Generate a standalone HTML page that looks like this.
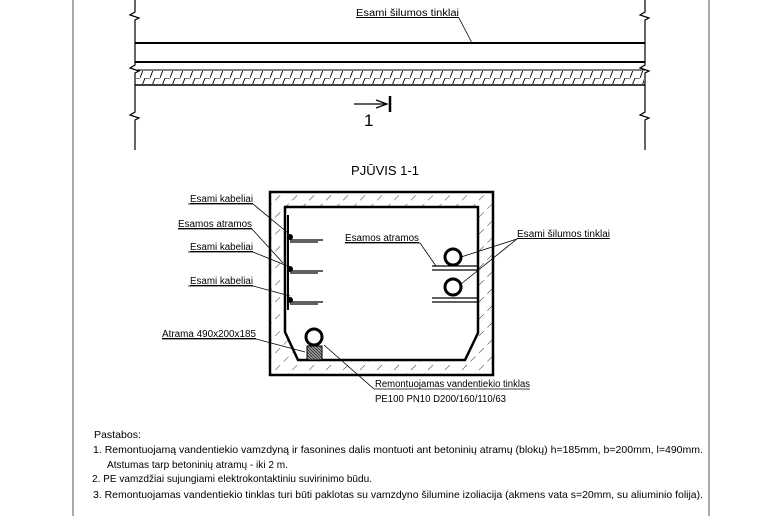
<!DOCTYPE html>
<html><head><meta charset="utf-8"><style>
html,body{margin:0;padding:0;background:#fff;width:774px;height:516px;overflow:hidden}
svg{display:block}
text{font-family:"Liberation Sans",sans-serif;fill:#000}
</style></head><body>
<svg width="774" height="516" viewBox="0 0 774 516" xmlns="http://www.w3.org/2000/svg">
<defs>
<pattern id="h" patternUnits="userSpaceOnUse" width="12" height="12" patternTransform="rotate(45)">
<line x1="0" y1="0" x2="0" y2="7" stroke="#000" stroke-width="0.8"/>
</pattern>
<pattern id="t" patternUnits="userSpaceOnUse" width="10" height="13">
<path d="M0 13 L5 0 L10 0" fill="none" stroke="#000" stroke-width="0.9"/>
</pattern>
<pattern id="x" patternUnits="userSpaceOnUse" width="3" height="3">
<rect width="3" height="3" fill="#999"/><line x1="0" y1="0" x2="3" y2="3" stroke="#000" stroke-width="0.6"/>
</pattern>
</defs>
<line x1="73" y1="0" x2="73" y2="516" stroke="#555" stroke-width="1"/>
<line x1="709" y1="0" x2="709" y2="516" stroke="#555" stroke-width="1"/>

<g stroke="#000" fill="none">
<path d="M135 0 V12 l-5 3 l9 3 l-4 2 V65 l-5 3 l9 3 l-4 2 V112 l-5 3 l9 3 l-4 2 V150" stroke-width="1.2"/>
<path d="M645 0 V12 l-5 3 l9 3 l-4 2 V65 l-5 3 l9 3 l-4 2 V112 l-5 3 l9 3 l-4 2 V150" stroke-width="1.2"/>
<line x1="135" y1="43" x2="645" y2="43" stroke-width="2"/>
<line x1="135" y1="62" x2="645" y2="62" stroke-width="2"/>
<line x1="135" y1="70" x2="645" y2="70" stroke-width="1"/>
<line x1="135" y1="85" x2="645" y2="85" stroke-width="1.5"/>
</g>
<rect x="136" y="71" width="508" height="13" fill="url(#t)"/>
<line x1="459" y1="18" x2="472" y2="43" stroke="#000" stroke-width="0.8"/>
<text x="356" y="16" font-size="10" text-decoration="underline" textLength="103" lengthAdjust="spacingAndGlyphs">Esami šilumos tinklai</text>
<line x1="354" y1="104" x2="386" y2="104" stroke="#000" stroke-width="1.2"/>
<path d="M376 100 L387 104 L376 108" fill="none" stroke="#000" stroke-width="1.2"/>
<line x1="390" y1="96" x2="390" y2="112" stroke="#000" stroke-width="2.5"/>
<text x="364" y="126" font-size="17" font-family="Liberation Serif">1</text>

<text x="385" y="175" font-size="13" text-anchor="middle">PJŪVIS 1-1</text>
<path fill-rule="evenodd" fill="url(#h)" stroke="#000" stroke-width="2.5" d="M270 192 H493 V375 H270 Z M285 207 H478 V333 L465 360 H298 L285 332 Z"/>
<path fill="none" stroke="#000" stroke-width="1.5" d="M285 207 H478 V333 L465 360 H298 L285 332 Z"/>
<g stroke="#000" fill="#000">
<line x1="288" y1="215" x2="288" y2="310" stroke-width="2"/>
<circle cx="290" cy="237" r="2.5"/><circle cx="290" cy="269" r="2.5"/><circle cx="290" cy="300" r="2.5"/>
<path d="M290 240 H323 M290 242 H318 M290 271 H323 M290 273 H318 M290 302 H323 M290 304 H318" stroke-width="1.3" fill="none"/>
</g>
<g stroke="#000" fill="none">
<path d="M432 266 H478 M432 270 H478 M432 298 H478 M432 302 H478" stroke-width="1.2"/>
<circle cx="453" cy="257" r="8" stroke-width="3"/>
<circle cx="453" cy="287" r="8" stroke-width="3"/>
<circle cx="314" cy="337" r="8" stroke-width="3" fill="#fff"/>
</g>
<rect x="307" y="346" width="15" height="14" fill="url(#x)" stroke="#000" stroke-width="1"/>
<g stroke="#000" stroke-width="0.8" fill="none">
<path d="M188 204 H253 L288 233"/>
<path d="M178 229 H252 L283 263"/>
<path d="M188 252 H253 L290 267"/>
<path d="M188 286 H253 L290 296"/>
<path d="M162 339 H256 L305 352"/>
<path d="M345 243 H420 L436 266"/>
<path d="M517 239 L461 257 M517 239 L461 284"/>
<path d="M324 345 L374 389 H530"/>
</g>
<g font-size="10">
<text x="190" y="202" text-decoration="underline" textLength="63" lengthAdjust="spacingAndGlyphs">Esami kabeliai</text>
<text x="178" y="227" text-decoration="underline" textLength="74" lengthAdjust="spacingAndGlyphs">Esamos atramos</text>
<text x="190" y="250" text-decoration="underline" textLength="63" lengthAdjust="spacingAndGlyphs">Esami kabeliai</text>
<text x="190" y="284" text-decoration="underline" textLength="63" lengthAdjust="spacingAndGlyphs">Esami kabeliai</text>
<text x="162" y="337" text-decoration="underline" textLength="94" lengthAdjust="spacingAndGlyphs">Atrama 490x200x185</text>
<text x="345" y="241" text-decoration="underline" textLength="74" lengthAdjust="spacingAndGlyphs">Esamos atramos</text>
<text x="517" y="237" text-decoration="underline" textLength="93" lengthAdjust="spacingAndGlyphs">Esami šilumos tinklai</text>
<text x="375" y="387" textLength="155" lengthAdjust="spacingAndGlyphs">Remontuojamas vandentiekio tinklas</text>
<text x="375" y="402" textLength="131" lengthAdjust="spacingAndGlyphs">PE100 PN10 D200/160/110/63</text>
</g>

<g font-size="10.5">
<text x="94" y="438" textLength="47" lengthAdjust="spacingAndGlyphs">Pastabos:</text>
<text x="93" y="453" textLength="610" lengthAdjust="spacingAndGlyphs">1. Remontuojamą vandentiekio vamzdyną ir fasonines dalis montuoti ant betoninių atramų (blokų) h=185mm, b=200mm, l=490mm.</text>
<text x="107" y="468" textLength="181" lengthAdjust="spacingAndGlyphs">Atstumas tarp betoninių atramų - iki 2 m.</text>
<text x="92" y="482" textLength="280" lengthAdjust="spacingAndGlyphs">2. PE vamzdžiai sujungiami elektrokontaktiniu suvirinimo būdu.</text>
<text x="93" y="498" textLength="610" lengthAdjust="spacingAndGlyphs">3. Remontuojamas vandentiekio tinklas turi būti paklotas su vamzdyno šilumine izoliacija (akmens vata s=20mm, su aliuminio folija).</text>
</g>
</svg>
</body></html>
